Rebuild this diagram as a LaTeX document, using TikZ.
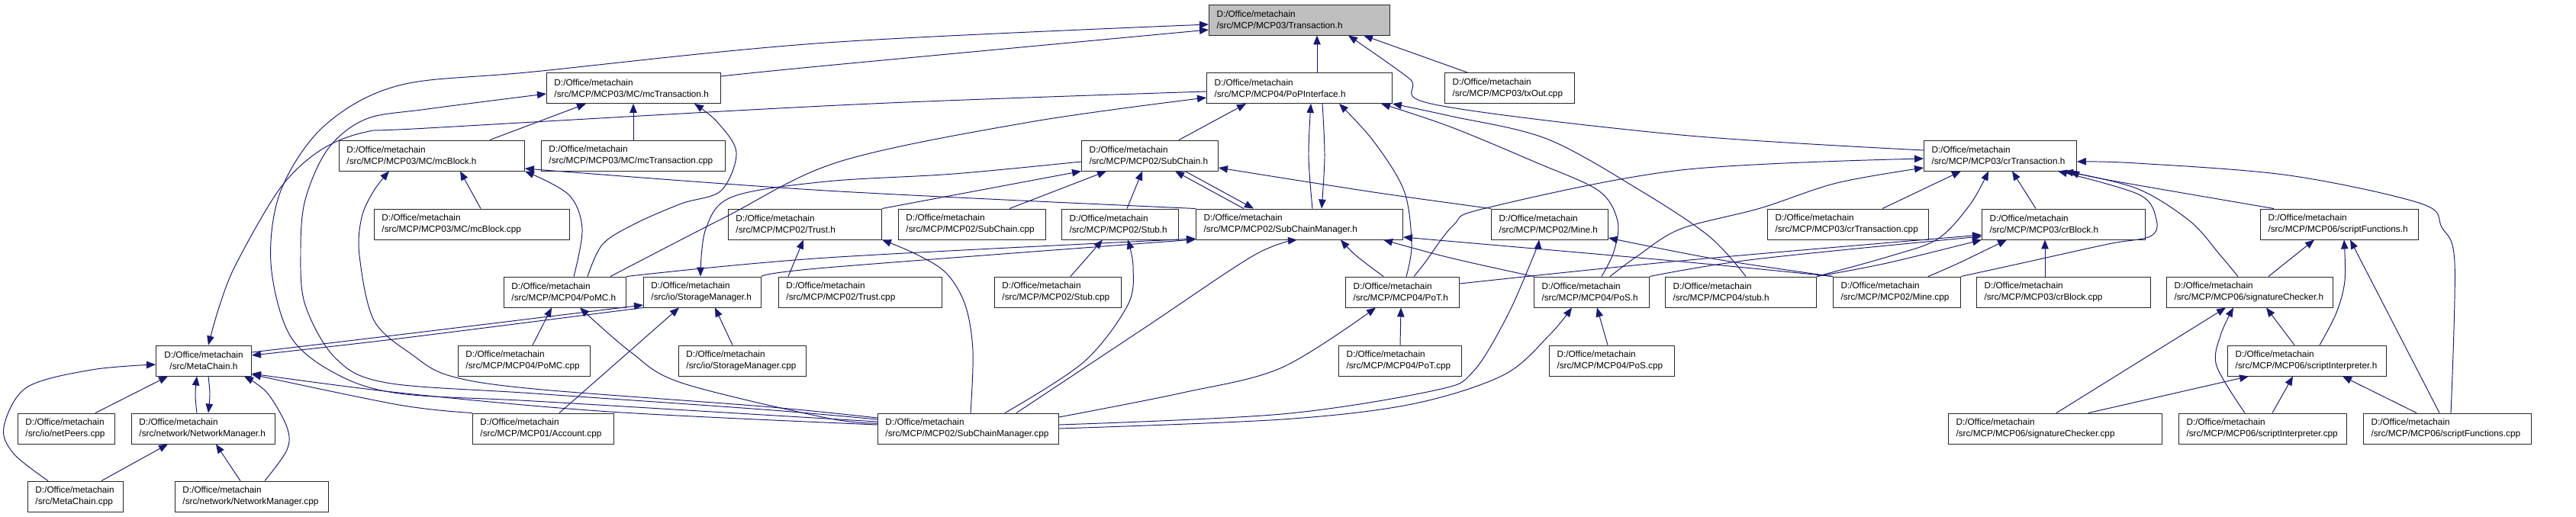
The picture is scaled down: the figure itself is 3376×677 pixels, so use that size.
\documentclass[tikz,border=0pt]{standalone}
\usepackage{fontspec}
\setmainfont{Liberation Sans}
\usetikzlibrary{arrows.meta}
\definecolor{edgeblue}{RGB}{25,25,112}

\begin{document}
\begin{tikzpicture}[x=0.02cm, y=-0.02cm, font=\fontsize{6.7}{8.5}\selectfont]
\tikzstyle{box} = [rectangle, draw=black!85, line width=0.55pt, fill=white, align=left, inner xsep=0.2cm, inner ysep=0pt, minimum height=0.8cm, anchor=west]
\tikzstyle{dep} = [draw=edgeblue, line width=0.55pt, -{Triangle[length=0.24cm, width=0.19cm]}]
\tikzstyle{curve} = [smooth, tension=0.55]
\useasboundingbox (0,0) rectangle (3376,677);

% row 0
\node [box, fill=black!25, text width=4.34cm] (tx) at (1584,26) {D:/Office/metachain\\/src/MCP/MCP03/Transaction.h};
% row 1
\node [box, text width=4.16cm] (mctx) at (716,115.5) {D:/Office/metachain\\/src/MCP/MCP03/MC/mcTransaction.h};
\node [box, text width=4.46cm] (pop) at (1581,115.5) {D:/Office/metachain\\/src/MCP/MCP04/PoPInterface.h};
\node [box, text width=3.00cm] (txout) at (1893,115.5) {D:/Office/metachain\\/src/MCP/MCP03/txOut.cpp};
% row 2
\node [box, text width=4.46cm] (mcb) at (444,204) {D:/Office/metachain\\/src/MCP/MCP03/MC/mcBlock.h};
\node [box, text width=4.42cm] (mctxcpp) at (709,204) {D:/Office/metachain\\/src/MCP/MCP03/MC/mcTransaction.cpp};
\node [box, text width=3.18cm] (sc) at (1417,204) {D:/Office/metachain\\/src/MCP/MCP02/SubChain.h};
\node [box, text width=3.60cm] (crtx) at (2521,204) {D:/Office/metachain\\/src/MCP/MCP03/crTransaction.h};
% row 3
\node [box, text width=4.72cm] (mcbcpp) at (490,294) {D:/Office/metachain\\/src/MCP/MCP03/MC/mcBlock.cpp};
\node [box, text width=3.62cm] (trust) at (954,294) {D:/Office/metachain\\/src/MCP/MCP02/Trust.h};
\node [box, text width=3.46cm] (sccpp) at (1177,294) {D:/Office/metachain\\/src/MCP/MCP02/SubChain.cpp};
\node [box, text width=2.66cm] (stub) at (1391,294) {D:/Office/metachain\\/src/MCP/MCP02/Stub.h};
\node [box, text width=5.02cm] (scm) at (1567,294) {D:/Office/metachain\\/src/MCP/MCP02/SubChainManager.h};
\node [box, text width=2.66cm] (mine) at (1954,294) {D:/Office/metachain\\/src/MCP/MCP02/Mine.h};
\node [box, text width=3.82cm] (crtxcpp) at (2316,294) {D:/Office/metachain\\/src/MCP/MCP03/crTransaction.cpp};
\node [box, text width=3.88cm] (crb) at (2597,294) {D:/Office/metachain\\/src/MCP/MCP03/crBlock.h};
\node [box, text width=3.74cm] (sfh) at (2962,294) {D:/Office/metachain\\/src/MCP/MCP06/scriptFunctions.h};
% row 4
\node [box, text width=2.80cm] (pomc) at (660,383) {D:/Office/metachain\\/src/MCP/MCP04/PoMC.h};
\node [box, text width=2.68cm] (stm) at (843,383) {D:/Office/metachain\\/src/io/StorageManager.h};
\node [box, text width=3.88cm] (trustcpp) at (1020,383) {D:/Office/metachain\\/src/MCP/MCP02/Trust.cpp};
\node [box, text width=2.92cm] (stubcpp) at (1303,383) {D:/Office/metachain\\/src/MCP/MCP02/Stub.cpp};
\node [box, text width=2.58cm] (pot) at (1763,383) {D:/Office/metachain\\/src/MCP/MCP04/PoT.h};
\node [box, text width=2.62cm] (pos) at (2010,383) {D:/Office/metachain\\/src/MCP/MCP04/PoS.h};
\node [box, text width=3.56cm] (stubh) at (2182,383) {D:/Office/metachain\\/src/MCP/MCP04/stub.h};
\node [box, text width=2.94cm] (minecpp) at (2402,383) {D:/Office/metachain\\/src/MCP/MCP02/Mine.cpp};
\node [box, text width=4.16cm] (crbcpp) at (2590,383) {D:/Office/metachain\\/src/MCP/MCP03/crBlock.cpp};
\node [box, text width=3.96cm] (sigh) at (2839,383) {D:/Office/metachain\\/src/MCP/MCP06/signatureChecker.h};
% row 5
\node [box, align=center, text width=2.10cm] (mch) at (204,473) {D:/Office/metachain\\/src/MetaChain.h};
\node [box, text width=3.06cm] (pomccpp) at (600,473) {D:/Office/metachain\\/src/MCP/MCP04/PoMC.cpp};
\node [box, text width=2.94cm] (stmcpp) at (889,473) {D:/Office/metachain\\/src/io/StorageManager.cpp};
\node [box, text width=2.82cm] (potcpp) at (1754,473) {D:/Office/metachain\\/src/MCP/MCP04/PoT.cpp};
\node [box, text width=2.88cm] (poscpp) at (2030,473) {D:/Office/metachain\\/src/MCP/MCP04/PoS.cpp};
\node [box, text width=3.76cm] (sih) at (2919,473) {D:/Office/metachain\\/src/MCP/MCP06/scriptInterpreter.h};
% row 6
\node [box, text width=2.14cm] (netpeers) at (23,562) {D:/Office/metachain\\/src/io/netPeers.cpp};
\node [box, text width=3.36cm] (nmh) at (172,562) {D:/Office/metachain\\/src/network/NetworkManager.h};
\node [box, text width=3.30cm] (account) at (619,562) {D:/Office/metachain\\/src/MCP/MCP01/Account.cpp};
\node [box, text width=4.34cm] (scmcpp) at (1150,562) {D:/Office/metachain\\/src/MCP/MCP02/SubChainManager.cpp};
\node [box, text width=5.20cm] (sigcpp) at (2553,562) {D:/Office/metachain\\/src/MCP/MCP06/signatureChecker.cpp};
\node [box, text width=4.00cm] (sicpp) at (2855,562) {D:/Office/metachain\\/src/MCP/MCP06/scriptInterpreter.cpp};
\node [box, text width=4.00cm] (sfcpp) at (3097,562) {D:/Office/metachain\\/src/MCP/MCP06/scriptFunctions.cpp};
% row 7
\node [box, text width=2.10cm] (mccpp) at (36,651) {D:/Office/metachain\\/src/MetaChain.cpp};
\node [box, text width=3.62cm] (nmcpp) at (229,651) {D:/Office/metachain\\/src/network/NetworkManager.cpp};

% into Transaction.h
\draw [dep] plot[curve] coordinates {(scmcpp.west |- 0,553) (1000,544) (700,526) (523,516) (440,490) (380,440) (355,345) (368,250) (425,165) (523,112) (700,94) (1083,56) (tx.west |- 0,32)};
\draw [dep] plot[curve] coordinates {(mctx.east |- 0,100) (1083,86) (tx.west |- 0,39)};
\draw [dep] (1726,0 |- pop.north) -- (1726,0 |- tx.south);
\draw [dep] (1923,0 |- txout.north) -- (1787,0 |- tx.south);
\draw [dep] plot[curve] coordinates {(crtx.west |- 0,197) (2203,177) (1880,137) (1847,103) (1767,0 |- tx.south)};

% into mcTransaction.h
\draw [dep] plot[curve] coordinates {(scmcpp.west |- 0,550) (1000,537) (700,516) (507,502) (440,470) (400,400) (394,330) (400,262) (430,195) (480,156) (560,143) (mctx.west |- 0,123)};
\draw [dep] (642,0 |- mcb.north) -- (768,0 |- mctx.south);
\draw [dep] (830,0 |- mctxcpp.north) -- (830,0 |- mctx.south);
\draw [dep] plot[curve] coordinates {(770,0 |- pomc.north) (790,320) (833,293) (893,267) (945,250) (965,200) (940,160) (910,0 |- mctx.south)};

% into mcBlock.h
\draw [dep] plot[curve] coordinates {(scmcpp.west |- 0,548) (1000,533) (700,510) (590,493) (540,465) (490,420) (471,335) (474,285) (490,250) (510,0 |- mcb.south)};
\draw [dep] (630,0 |- mcbcpp.north) -- (603,0 |- mcb.south);
\draw [dep] plot[curve] coordinates {(752,0 |- pomc.north) (763,300) (745,255) (mcb.south east)};
\draw [dep] plot[curve] coordinates {(scm.north west) (1083,250) (mcb.east |- 0,221)};

% into PoPInterface.h
\draw [dep] (1545,0 |- sc.north) -- (1633,0 |- pop.south);
\draw [dep] plot[curve] coordinates {(800,0 |- pomc.north) (950,285) (1100,212) (1350,160) (pop.west |- 0,128)};
\draw [dep] plot[curve] coordinates {(1720,0 |- scm.north) (1715,205) (1718,0 |- pop.south)};
\draw [dep] plot[curve] coordinates {(1733,0 |- pop.south) (1736,205) (1732,0 |- scm.north)};
\draw [dep] plot[curve] coordinates {(1843,0 |- pot.north) (1850,320) (1840,250) (1800,185) (1755,0 |- pop.south)};
\draw [dep] plot[curve] coordinates {(2099,0 |- pos.north) (2115,330) (2120,290) (2095,250) (2013,213) (1900,166) (1810,0 |- pop.south)};
\draw [dep] plot[curve] coordinates {(2288,0 |- stubh.north) (2240,310) (2150,250) (2027,182) (1900,152) (pop.south east)};

% into MetaChain.h
\draw [dep] plot[curve] coordinates {(pop.west |- 0,120) (1120,137) (560,168) (480,173) (420,197) (367,247) (310,345) (288,400) (273,0 |- mch.north)};

% into SubChain.h
\draw [dep] (trust.north east) -- (sc.south west);
\draw [dep] (1323,0 |- sccpp.north) -- (1450,0 |- sc.south);
\draw [dep] (1477,0 |- stub.north) -- (1497,0 |- sc.south);
\draw [dep] (1630,0 |- scm.north) -- (1540,0 |- sc.south);
\draw [dep] (1553,0 |- sc.south) -- (1643,0 |- scm.north);
\draw [dep] plot[curve] coordinates {(mine.north west) (1800,252) (sc.east |- 0,220)};

% into StorageManager.h
\draw [dep] plot[curve] coordinates {(sc.west |- 0,212) (1250,228) (1083,238) (960,258) (925,300) (918,0 |- stm.north)};
\draw [dep] plot[curve] coordinates {(mch.east |- 0,462) (523,439) (stm.west |- 0,400)};
\draw [dep] plot[curve] coordinates {(stm.south west) (523,444) (mch.east |- 0,466)};
\draw [dep] (733,0 |- account.north) -- (890,0 |- stm.south);
\draw [dep] (960,0 |- stmcpp.north) -- (937,0 |- stm.south);

% into SubChainManager.h
\draw [dep] plot[curve] coordinates {(pomc.north east) (1083,338) (scm.west |- 0,313)};
\draw [dep] plot[curve] coordinates {(stm.north east) (1083,351) (scm.west |- 0,314)};
\draw [dep] plot[curve] coordinates {(1332,0 |- scmcpp.north) (1500,430) (1643,335) (1700,0 |- scm.south)};
\draw [dep] plot[curve] coordinates {(1813,0 |- pot.north) (1777,335) (1757,0 |- scm.south)};
\draw [dep] plot[curve] coordinates {(pos.north west) (1900,338) (1813,0 |- scm.south)};
\draw [dep] plot[curve] coordinates {(minecpp.north west) (2203,343) (scm.east |- 0,311)};

% into Trust.h, Stub.h, Mine.h
\draw [dep] (1033,0 |- trustcpp.north) -- (1053,0 |- trust.south);
\draw [dep] plot[curve] coordinates {(1272,0 |- scmcpp.north) (1275,460) (1265,400) (1240,358) (1200,333) (trust.south east)};
\draw [dep] (1403,0 |- stubcpp.north) -- (1445,0 |- stub.south);
\draw [dep] plot[curve] coordinates {(1317,0 |- scmcpp.north) (1420,475) (1478,400) (1485,350) (1478,0 |- stub.south)};
\draw [dep] plot[curve] coordinates {(scmcpp.east |- 0,557) (1680,543) (1880,512) (1930,488) (1975,415) (2010,335) (2017,0 |- mine.south)};
\draw [dep] plot[curve] coordinates {(minecpp.north west) (2250,340) (mine.east |- 0,312)};

% into PoMC.h, PoT.h, PoS.h
\draw [dep] (698,0 |- pomccpp.north) -- (723,0 |- pomc.south);
\draw [dep] plot[curve] coordinates {(scmcpp.west |- 0,555) (1083,548) (893,502) (827,462) (760,0 |- pomc.south)};
\draw [dep] (1835,0 |- potcpp.north) -- (1836,0 |- pot.south);
\draw [dep] plot[curve] coordinates {(scmcpp.east |- 0,547) (1550,515) (1680,482) (1803,0 |- pot.south)};
\draw [dep] (2107,0 |- poscpp.north) -- (2093,0 |- pos.south);
\draw [dep] plot[curve] coordinates {(scmcpp.east |- 0,562) (1680,550) (1850,530) (1970,492) (2030,440) (2060,0 |- pos.south)};

% into crTransaction.h
\draw [dep] plot[curve] coordinates {(1853,0 |- pot.north) (1867,345) (1905,295) (1947,273) (2203,223) (crtx.west |- 0,208)};
\draw [dep] plot[curve] coordinates {(2110,0 |- pos.north) (2147,335) (2203,300) (2307,273) (2407,240) (crtx.west |- 0,220)};
\draw [dep] (2467,0 |- crtxcpp.north) -- (2570,0 |- crtx.south);
\draw [dep] plot[curve] coordinates {(stubh.north east) (2480,335) (2540,313) (2582,268) (2606,0 |- crtx.south)};
\draw [dep] (2668,0 |- crb.north) -- (2637,0 |- crtx.south);
\draw [dep] plot[curve] coordinates {(minecpp.north east) (2650,345) (2763,320) (2818,310) (2826,288) (2803,255) (2697,0 |- crtx.south)};
\draw [dep] plot[curve] coordinates {(2980,0 |- sfh.north) (2763,236) (2713,0 |- crtx.south)};
\draw [dep] plot[curve] coordinates {(2933,0 |- sigh.north) (2910,335) (2870,290) (2800,247) (2705,0 |- crtx.south)};
\draw [dep] plot[curve] coordinates {(3212,0 |- sfcpp.north) (3217,345) (3200,298) (3173,267) (3000,230) (2800,214) (crtx.east |- 0,212)};

% into crBlock.h
\draw [dep] plot[curve] coordinates {(pot.east |- 0,372) (2203,342) (crb.west |- 0,308)};
\draw [dep] plot[curve] coordinates {(pos.north east) (2300,340) (crb.west |- 0,310)};
\draw [dep] plot[curve] coordinates {(stubh.north east) (2473,345) (crb.south west)};
\draw [dep] plot[curve] coordinates {(2527,0 |- minecpp.north) (2567,345) (2630,0 |- crb.south)};
\draw [dep] (2680,0 |- crbcpp.north) -- (2680,0 |- crb.south);

% MCP06
\draw [dep] (2973,0 |- sigh.north) -- (3033,0 |- sfh.south);
\draw [dep] plot[curve] coordinates {(3040,0 |- sih.north) (3062,410) (3073,368) (3072,0 |- sfh.south)};
\draw [dep] (3197,0 |- sfcpp.north) -- (3080,0 |- sfh.south);
\draw [dep] (2695,0 |- sigcpp.north) -- (2917,0 |- sigh.south);
\draw [dep] plot[curve] coordinates {(2942,0 |- sicpp.north) (2905,480) (2910,440) (2927,0 |- sigh.south)};
\draw [dep] (3007,0 |- sih.north) -- (2970,0 |- sigh.south);
\draw [dep] (2737,0 |- sigcpp.north) -- (2947,0 |- sih.south);
\draw [dep] (2978,0 |- sicpp.north) -- (3005,0 |- sih.south);
\draw [dep] (3167,0 |- sfcpp.north) -- (3070,0 |- sih.south);

% around MetaChain.h
\draw [dep] plot[curve] coordinates {(scmcpp.west |- 0,557) (800,540) (523,515) (mch.east |- 0,490)};
\draw [dep] plot[curve] coordinates {(account.north west) (523,531) (mch.east |- 0,491)};
\draw [dep] (125,0 |- netpeers.north) -- (220,0 |- mch.south);
\draw [dep] plot[curve] coordinates {(258,0 |- nmh.north) (256,518) (258,0 |- mch.south)};
\draw [dep] plot[curve] coordinates {(273,0 |- mch.south) (275,517) (273,0 |- nmh.north)};
\draw [dep] plot[curve] coordinates {(63,0 |- mccpp.north) (18,595) (5,560) (35,508) (120,485) (mch.west |- 0,478)};
\draw [dep] plot[curve] coordinates {(347,0 |- nmcpp.north) (376,590) (376,560) (350,515) (320,0 |- mch.south)};
\draw [dep] (133,0 |- mccpp.north) -- (220,0 |- nmh.south);
\draw [dep] (315,0 |- nmcpp.north) -- (283,0 |- nmh.south);
\end{tikzpicture}
\end{document}
